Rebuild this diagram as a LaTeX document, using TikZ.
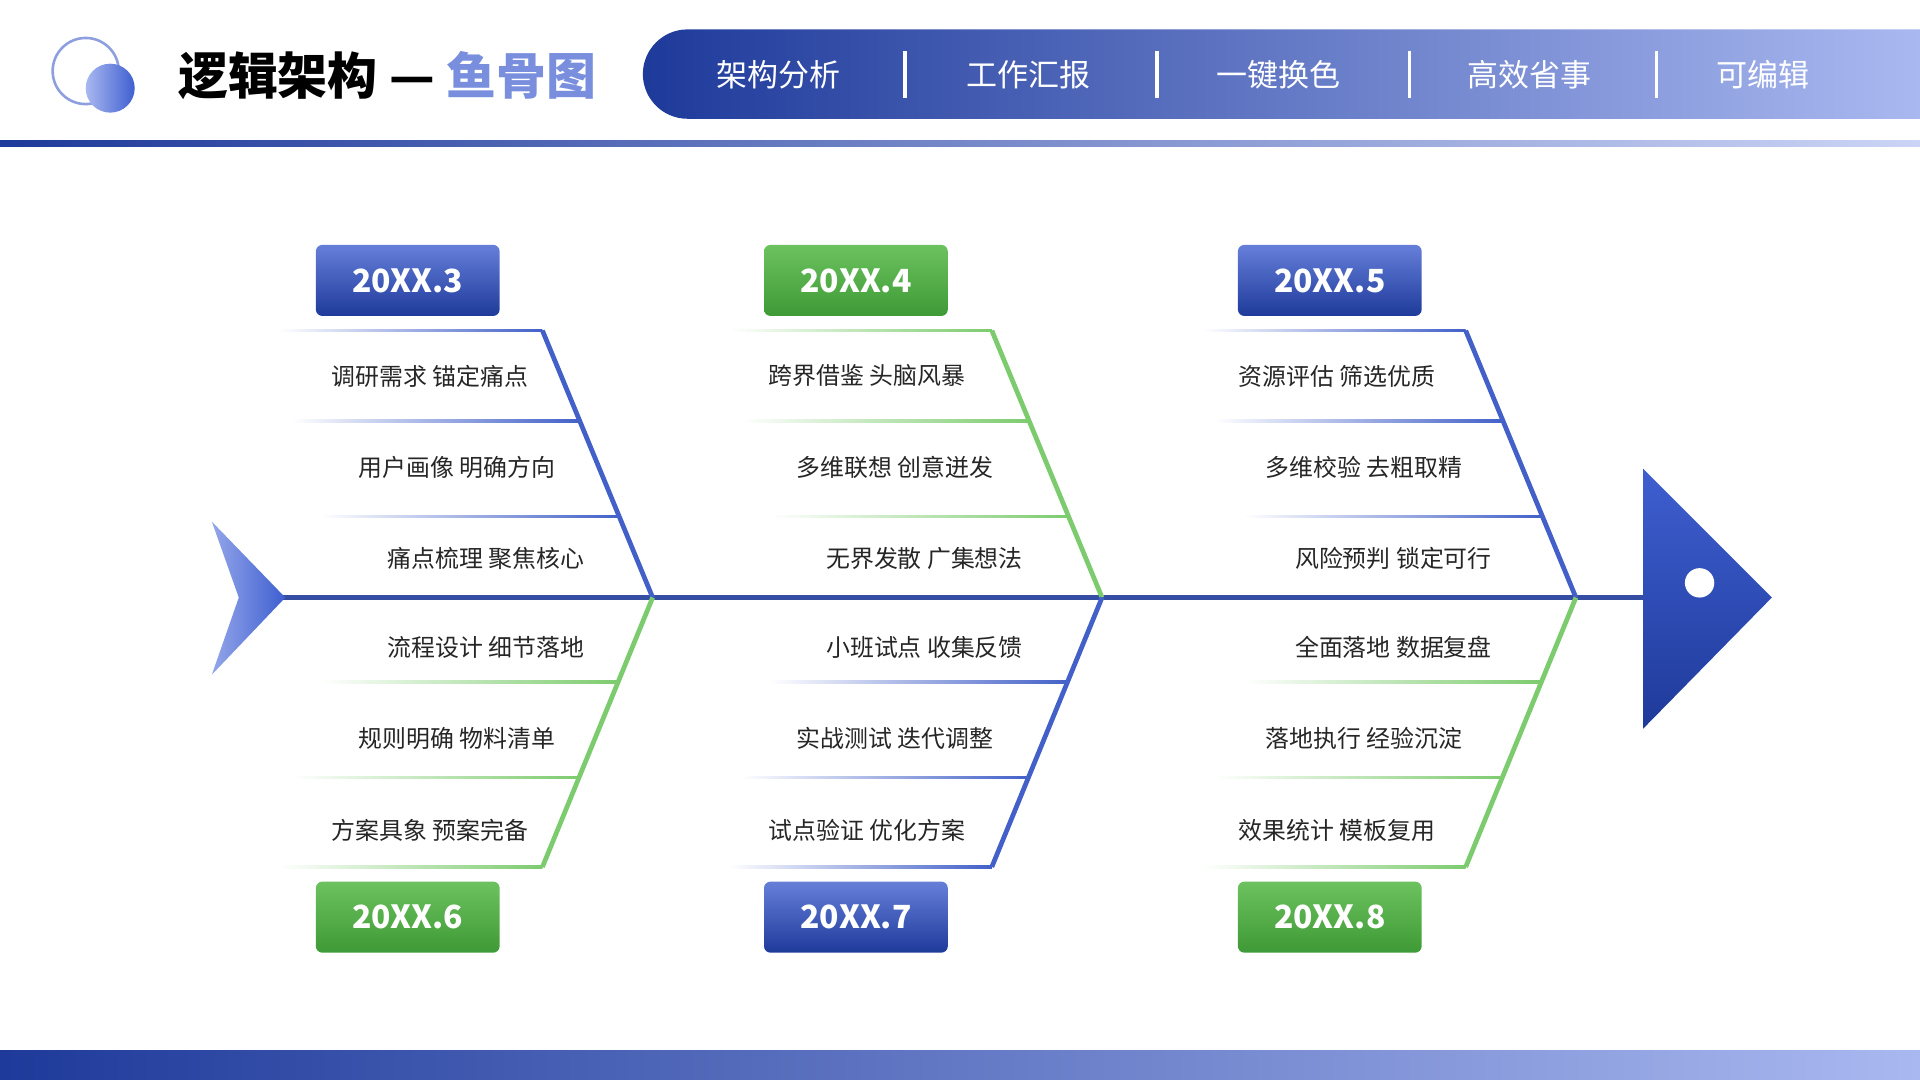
\documentclass[tikz,border=0pt]{standalone}
\usepackage{fontspec}
\setmainfont{Noto Sans CJK SC}
\begin{document}
\begin{tikzpicture}[x=0.01cm,y=-0.01cm]
\definecolor{dblue}{HTML}{1E3A9A}
\definecolor{mblue}{HTML}{3F5FD0}
\definecolor{lblue}{HTML}{A9B8F0}
\definecolor{gdark}{HTML}{3E9A36}
\definecolor{glight}{HTML}{6CC25E}
\definecolor{bline}{HTML}{4260C8}
\definecolor{gline}{HTML}{7CCB6E}
\tikzset{lbl/.style={font=\fontsize{5.55}{6}\selectfont, text=black!85},
 tab/.style={font=\fontsize{7.2}{8}\selectfont, text=white},
 datebox/.style={rounded corners=1.5pt, minimum width=1.5cm, minimum height=0.58cm, font=\fontsize{7.4}{8}\bfseries\selectfont, text=white}}
\useasboundingbox (0,0) rectangle (1568,882);
% header logo
\draw[lblue!80!dblue, line width=0.6pt] (70,58) circle (27);
\shade[left color=lblue, right color=mblue] (90,72) circle (20);
\node[anchor=west, font=\fontsize{11.6}{13}\bfseries\selectfont] (title) at (133,62) {逻辑架构 — \textcolor{mblue!70}{鱼骨图}};
% tab bar
\shade[left color=dblue, right color=lblue] (1568,24) [rounded corners=0.365cm] -- (525,24) -- (525,97) [sharp corners] -- (1568,97) -- cycle;
\foreach \t/\x in {架构分析/636, 工作汇报/840, 一键换色/1044, 高效省事/1249, 可编辑/1440}
  \node[tab] at (\x,61) {\t};
\foreach \x in {739,945,1151,1353} \draw[white, line width=0.8pt] (\x,42) -- (\x,80);
% lines
\shade[left color=dblue, right color=lblue!60] (0,115) rectangle (1568,120);
\shade[left color=dblue, right color=lblue] (0,858) rectangle (1568,882);
% spine
\draw[dblue!90, line width=1.3pt] (225,488) -- (1350,488);
\shade[left color=lblue!80!mblue, right color=mblue] (173,426) -- (233,488) -- (173,551) -- (195,488) -- cycle;
\shade[top color=mblue, bottom color=dblue] (1342,383) -- (1447,488) -- (1342,595) -- cycle;
\fill[white] (1388,476) circle (12);
% bones
\foreach \ox/\tc/\bc [count=\i] in {0/bline/gline, 367/gline/bline, 754/bline/gline}{
  \begin{scope}[xshift=\ox*0.01cm]
  \draw[\tc, line width=1.1pt] (443,270) -- (533,488);
  \draw[\bc, line width=1.1pt] (533,488) -- (443,708);
  \foreach \y/\xs/\xe in {270/228/443, 344/238/474, 422/262/506}
    \shade[left color=white, right color=\tc] (\xs,\y-1) rectangle (\xe,\y+1);
  \foreach \y/\xs/\xe in {557/262/506, 635/238/474, 708/228/443}
    \shade[left color=white, right color=\bc] (\xs,\y-1) rectangle (\xe,\y+1);
  \end{scope}}
% dates
\node[datebox, top color=mblue!80, bottom color=dblue] (d3) at (333,229) {20XX.3};
\node[datebox, top color=glight, bottom color=gdark] (d4) at (699,229) {20XX.4};
\node[datebox, top color=mblue!80, bottom color=dblue] (d5) at (1086,229) {20XX.5};
\node[datebox, top color=glight, bottom color=gdark] (d6) at (333,749) {20XX.6};
\node[datebox, top color=mblue!80, bottom color=dblue] (d7) at (699,749) {20XX.7};
\node[datebox, top color=glight, bottom color=gdark] (d8) at (1086,749) {20XX.8};
% labels
\node[lbl] at (351,307) {调研需求 锚定痛点};
\node[lbl] at (373,382) {用户画像 明确方向};
\node[lbl] at (397,456) {痛点梳理 聚焦核心};
\node[lbl] at (397,529) {流程设计 细节落地};
\node[lbl] at (373,603) {规则明确 物料清单};
\node[lbl] at (351,678) {方案具象 预案完备};
\node[lbl] at (708,307) {跨界借鉴 头脑风暴};
\node[lbl] at (731,382) {多维联想 创意迸发};
\node[lbl] at (755,456) {无界发散 广集想法};
\node[lbl] at (755,529) {小班试点 收集反馈};
\node[lbl] at (731,603) {实战测试 迭代调整};
\node[lbl] at (708,678) {试点验证 优化方案};
\node[lbl] at (1092,307) {资源评估 筛选优质};
\node[lbl] at (1114,382) {多维校验 去粗取精};
\node[lbl] at (1138,456) {风险预判 锁定可行};
\node[lbl] at (1138,529) {全面落地 数据复盘};
\node[lbl] at (1114,603) {落地执行 经验沉淀};
\node[lbl] at (1092,678) {效果统计 模板复用};
\end{tikzpicture}
\end{document}
